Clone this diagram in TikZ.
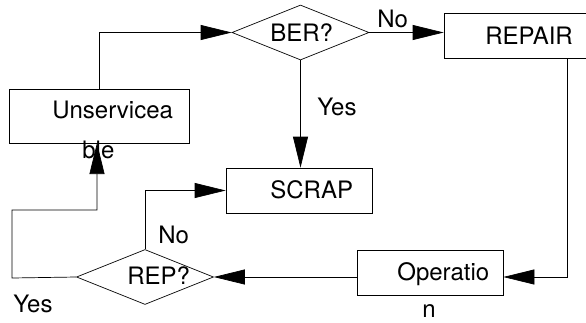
\documentclass[tikz,border=0pt]{standalone}
\usepackage{fontspec}
\setmainfont{TeX Gyre Heros}
\usetikzlibrary{shapes.geometric,arrows.meta}
\begin{document}
\begin{tikzpicture}[x=1pt,y=-1pt,
  line width=0.7pt,
  box/.style={draw,rectangle,inner sep=0pt},
  dia/.style={draw,diamond,inner sep=0pt,minimum width=137pt,minimum height=55pt},
  lbl/.style={inner sep=0pt,anchor=base west,font=\fontsize{24}{28}\selectfont},
  arr/.style={-{Triangle[length=31pt,width=15pt]}}]
\useasboundingbox (0,0) rectangle (586,322);
% nodes
\node[box,minimum width=180pt,minimum height=54pt] (unserv) at (99,116) {};
\node[box,minimum width=146pt,minimum height=45pt] (repair) at (517,35.5) {};
\node[box,minimum width=146pt,minimum height=45pt] (scrap) at (299,190.5) {};
\node[box,minimum width=146pt,minimum height=45pt] (oper) at (430,272.5) {};
\node[dia] (ber) at (300.5,32.5) {};
\node[dia] (rep) at (145,277) {};
% texts
\node[lbl] (tu1) at (52,118) {Unservicea};
\node[lbl] (tu2) at (82,158) {ble};
\node[lbl] (tber) at (270,41) {BER?};
\node[lbl] (trep) at (485,44) {REPAIR};
\node[lbl] (tscr) at (270,198) {SCRAP};
\node[lbl] (top1) at (397,280) {Operatio};
\node[lbl] (top2) at (422,317) {n};
\node[lbl] (trp) at (127,284) {REP?};
\node[lbl] (no1) at (377,27) {No};
\node[lbl] (yes1) at (317,115) {Yes};
\node[lbl] (no2) at (158,243) {No};
\node[lbl] (yes2) at (13,312) {Yes};
% helper coordinates
\coordinate (rr) at (567,277);
\coordinate (ya) at (12,278);
\coordinate (yb) at (12,210);
\coordinate (ux) at (97,143);
% connectors
\draw[arr] (unserv.north) |- (ber.west);
\draw[arr] (ber.east) -- (ber.east -| repair.west);
\draw[arr] (ber.south) -- (ber.south |- scrap.north);
\draw[arr] (repair.south -| rr) |- (oper.east |- rr);
\draw[arr] (oper.west |- rep.east) -- (rep.east);
\draw[arr] (rep.north) |- (scrap.west);
\draw[arr] (rep.west) -- (ya) -- (yb) -| (ux);
\end{tikzpicture}
\end{document}
